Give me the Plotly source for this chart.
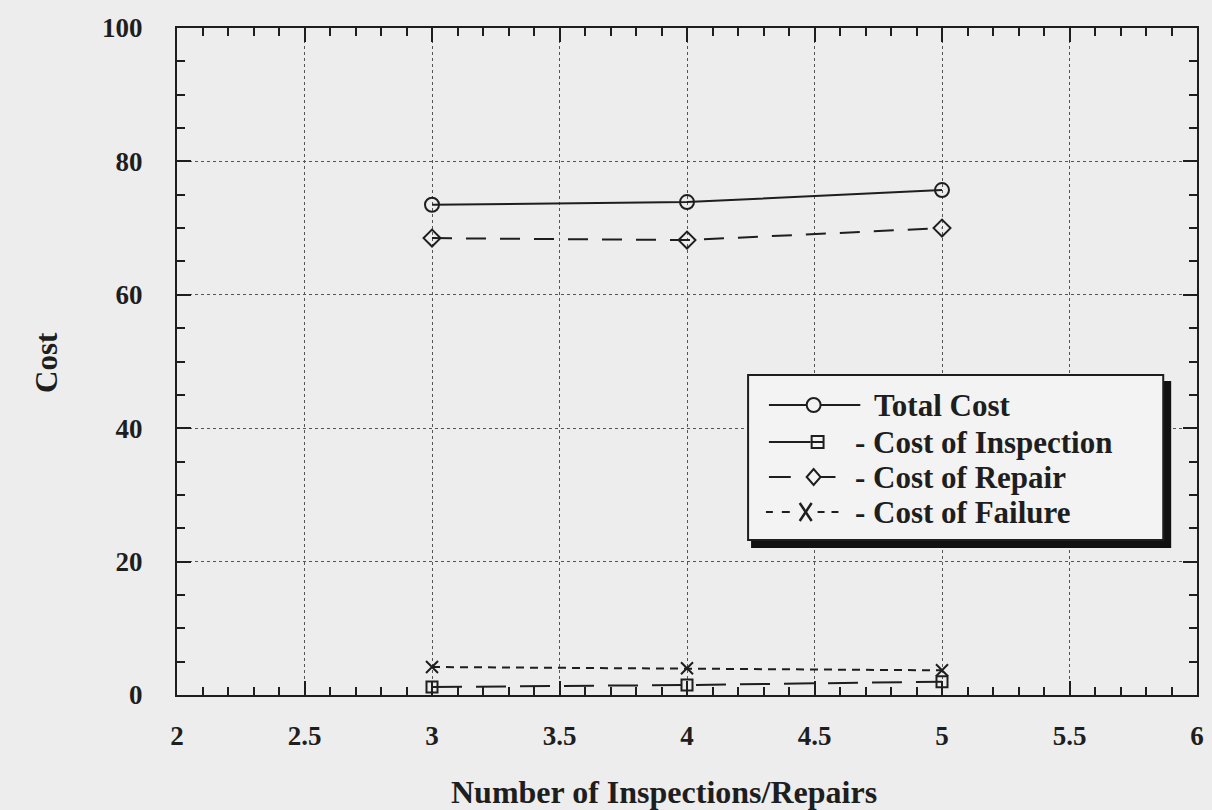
import plotly.graph_objects as go

# Number of inspections/repairs and the resulting cost components
n_inspections = [3, 4, 5]
total_cost = [73.5, 73.9, 75.7]
cost_inspection = [1.2, 1.5, 2.0]
cost_repair = [68.5, 68.2, 70.0]
cost_failure = [4.2, 4.0, 3.7]

series_names = ["Total Cost", "- Cost of Inspection", "- Cost of Repair", "- Cost of Failure"]

FONT = "Liberation Serif"
INK = "#1e1e1e"
BG = "#ededed"

# figure / plot-area geometry in pixels
W, H = 1212, 810
L, R, T, B = 177, 1204, 28, 695


def px(x):
    """pixel column -> paper x fraction"""
    return (x - L) / (R - L)


def py(y):
    """pixel row -> paper y fraction"""
    return (B - y) / (B - T)


fig = go.Figure()

styles = [
    ("solid", "circle-open", 14),
    ("30px,14px", "square-open", 11),
    ("20px,14px", "diamond-open", 13),
    ("8px,6px", "x-thin-open", 12),
]
for name, vals, (dash, sym, size) in zip(
        series_names, [total_cost, cost_inspection, cost_repair, cost_failure], styles):
    fig.add_trace(go.Scatter(
        x=n_inspections, y=vals, name=name, mode="lines+markers",
        showlegend=False,
        line=dict(color=INK, width=2, dash=dash),
        marker=dict(symbol=sym, size=size, color=INK,
                    line=dict(color=INK, width=2)),
    ))

# ---- legend box with drop shadow, drawn with shapes + annotations ----
shapes = []
bx0, bx1, by0, by1 = 752, 1170, 375, 540
shapes.append(dict(type="rect", xref="paper", yref="paper",
                   x0=px(bx0 + 3), x1=px(bx1 + 8), y0=py(by0 + 6), y1=py(by1 + 8),
                   fillcolor="#111111", line=dict(width=0), layer="above"))
shapes.append(dict(type="rect", xref="paper", yref="paper",
                   x0=px(bx0), x1=px(bx1), y0=py(by0), y1=py(by1),
                   fillcolor="#f3f3f3", line=dict(color=INK, width=2), layer="above"))


def hline(x0, x1, y, dash="solid"):
    shapes.append(dict(type="line", xref="paper", yref="paper",
                       x0=px(x0), x1=px(x1), y0=py(y), y1=py(y),
                       line=dict(color=INK, width=2, dash=dash), layer="above"))


def circle(cx, cy, r):
    shapes.append(dict(type="circle", xref="paper", yref="paper",
                       x0=px(cx - r), x1=px(cx + r), y0=py(cy - r), y1=py(cy + r),
                       fillcolor="#f3f3f3", line=dict(color=INK, width=2), layer="above"))


def square(cx, cy, h):
    shapes.append(dict(type="rect", xref="paper", yref="paper",
                       x0=px(cx - h), x1=px(cx + h), y0=py(cy - h), y1=py(cy + h),
                       fillcolor="#f3f3f3", line=dict(color=INK, width=2), layer="above"))
    hline(cx - h, cx + h, cy)


def diamond(cx, cy, hw, hh):
    path = (f"M {px(cx - hw)} {py(cy)} L {px(cx)} {py(cy - hh)} "
            f"L {px(cx + hw)} {py(cy)} L {px(cx)} {py(cy + hh)} Z")
    shapes.append(dict(type="path", xref="paper", yref="paper", path=path,
                       fillcolor="#f3f3f3", line=dict(color=INK, width=2), layer="above"))


def cross(cx, cy, hw, hh):
    for s in (-1, 1):
        shapes.append(dict(type="line", xref="paper", yref="paper",
                           x0=px(cx - hw), x1=px(cx + hw),
                           y0=py(cy - s * hh), y1=py(cy + s * hh),
                           line=dict(color=INK, width=2.5), layer="above"))


rows = [405, 442, 477, 512]

# Total Cost: solid line with circle
hline(773, 865, rows[0])
circle(818, rows[0], 7)
# Cost of Inspection: solid lead-in with square
hline(773, 815, rows[1])
square(822, rows[1], 6)
# Cost of Repair: dash, diamond, dash
hline(773, 795, rows[2])
hline(824, 840, rows[2])
diamond(818, rows[2], 7, 8)
# Cost of Failure: short dashes around an x
for a, b in [(770, 777), (786, 794), (822, 829), (836, 843)]:
    hline(a, b, rows[3])
cross(810, rows[3], 6, 9)

annotations = []
text_x = [877, 858, 858, 858]
for name, ty, tx in zip(series_names, rows, text_x):
    annotations.append(dict(
        text=f"<b>{name}</b>", xref="paper", yref="paper",
        x=px(tx), y=py(ty), xanchor="left", yanchor="middle",
        showarrow=False, font=dict(family=FONT, size=31, color=INK)))

# axis titles
annotations.append(dict(
    text="<b>Number of Inspections/Repairs</b>", xref="paper", yref="paper",
    x=px(667), y=py(792), xanchor="center", yanchor="middle",
    showarrow=False, font=dict(family=FONT, size=32, color=INK)))
annotations.append(dict(
    text="<b>Cost</b>", xref="paper", yref="paper", textangle=-90,
    x=px(45), y=py(362), xanchor="center", yanchor="middle",
    showarrow=False, font=dict(family=FONT, size=31, color=INK)))

axis_common = dict(
    showline=True, linecolor=INK, linewidth=2, mirror="allticks",
    ticks="inside", ticklen=14, tickwidth=2, tickcolor=INK,
    showgrid=True, gridcolor="#555555", gridwidth=1, griddash="dot",
    zeroline=False,
    tickfont=dict(family=FONT, size=27, color=INK),
    tickprefix="<b>", ticksuffix="</b>",
)

fig.update_xaxes(
    range=[2, 6], dtick=0.5, tick0=2,
    minor=dict(dtick=0.1, ticks="inside", ticklen=8, tickwidth=2,
               tickcolor=INK, showgrid=False),
    ticklabelstandoff=16,
    **axis_common,
)
fig.update_yaxes(
    range=[0, 100], dtick=20, tick0=0,
    minor=dict(dtick=5, ticks="inside", ticklen=8, tickwidth=2,
               tickcolor=INK, showgrid=False),
    ticklabelstandoff=27,
    **axis_common,
)

fig.update_layout(
    width=W, height=H,
    margin=dict(l=L, r=W - R, t=T, b=H - B),
    paper_bgcolor=BG, plot_bgcolor=BG,
    showlegend=False,
    shapes=shapes,
    annotations=annotations,
)

fig.write_html("out.html")
